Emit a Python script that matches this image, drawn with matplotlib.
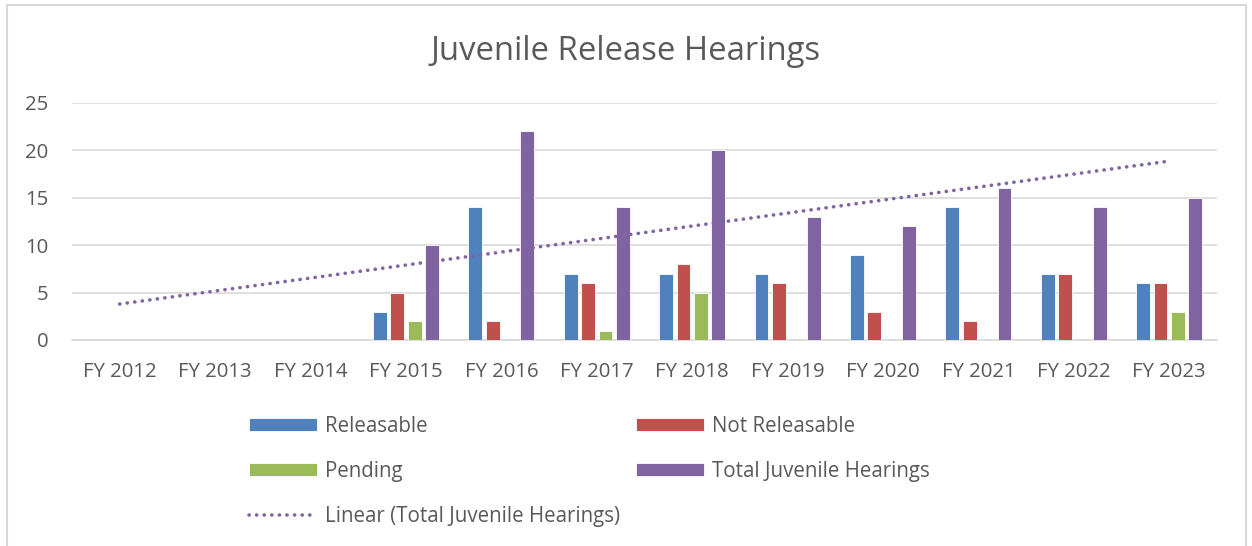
import numpy as np
import matplotlib.pyplot as plt
from matplotlib.patches import Rectangle

# data
years = ["FY 2012", "FY 2013", "FY 2014", "FY 2015", "FY 2016", "FY 2017",
         "FY 2018", "FY 2019", "FY 2020", "FY 2021", "FY 2022", "FY 2023"]
releasable = [0, 0, 0, 3, 14, 7, 7, 7, 9, 14, 7, 6]
not_releasable = [0, 0, 0, 5, 2, 6, 8, 6, 3, 2, 7, 6]
pending = [0, 0, 0, 2, 0, 1, 5, 0, 0, 0, 0, 3]
total = [0, 0, 0, 10, 22, 14, 20, 13, 12, 16, 14, 15]

names = ["Releasable", "Not Releasable", "Pending", "Total Juvenile Hearings"]
colors = ["#4F81BD", "#C0504D", "#9BBB59", "#8064A2"]
text_col = "#595959"
grid_col = "#D9D9D9"

plt.rcParams['font.family'] = ['Open Sans', 'DejaVu Sans']

fig = plt.figure(figsize=(12.52, 5.46), dpi=100)
ax = fig.add_axes([0.0575, 0.3773, 0.9145, 0.4341])

x = np.arange(len(years))
w = 0.145
step = 0.182
bars = []
for i, (vals, c) in enumerate(zip([releasable, not_releasable, pending, total], colors)):
    b = ax.bar(x + (i - 1.5) * step, vals, w, color=c, edgecolor="white",
               linewidth=0.6, zorder=3, label=names[i])
    bars.append(b)

# linear trendline of the totals (Excel style)
xs = np.arange(1, len(years) + 1)
k, m = np.polyfit(xs, total, 1)
trend, = ax.plot(x, k * xs + m, color=colors[3], linewidth=2.6,
                 linestyle=(0, (0.05, 2.05)), dash_capstyle="round", zorder=4,
                 label="Linear (Total Juvenile Hearings)")

ax.set_xlim(-0.5, len(years) - 0.5)
ax.set_ylim(0, 25)
ax.set_yticks(range(0, 26, 5))
ax.set_xticks(x)
ax.set_xticklabels(years)
ax.yaxis.grid(True, color=grid_col, linewidth=1.2, zorder=0)
for s in ["top", "right", "left"]:
    ax.spines[s].set_visible(False)
ax.spines["bottom"].set_color(grid_col)
ax.spines["bottom"].set_linewidth(1.2)
ax.tick_params(axis="both", length=0, labelsize=14.7, labelcolor=text_col)
ax.tick_params(axis="x", pad=16)
ax.tick_params(axis="y", pad=17)

fig.text(0.5, 0.906, "Juvenile Release Hearings", ha="center", va="center",
         fontsize=23.7, color=text_col)

handles = [bars[0], bars[2], trend, bars[1], bars[3]]
labels = [names[0], names[2], "Linear (Total Juvenile Hearings)", names[1], names[3]]
fig.legend(handles, labels, ncol=2, loc="upper left", bbox_to_anchor=(0.199, 0.239),
           frameon=False, fontsize=14.8, labelcolor=text_col, handlelength=3.3,
           handleheight=0.63, handletextpad=0.39, columnspacing=0.8,
           labelspacing=1.19, borderaxespad=0, borderpad=0)

# chart area border
fig.patches.append(Rectangle((0.0056, -0.02), 0.9896, 1.0108, transform=fig.transFigure,
                             fill=False, edgecolor=grid_col, linewidth=1.5))

fig.savefig("out.png", dpi=100)
